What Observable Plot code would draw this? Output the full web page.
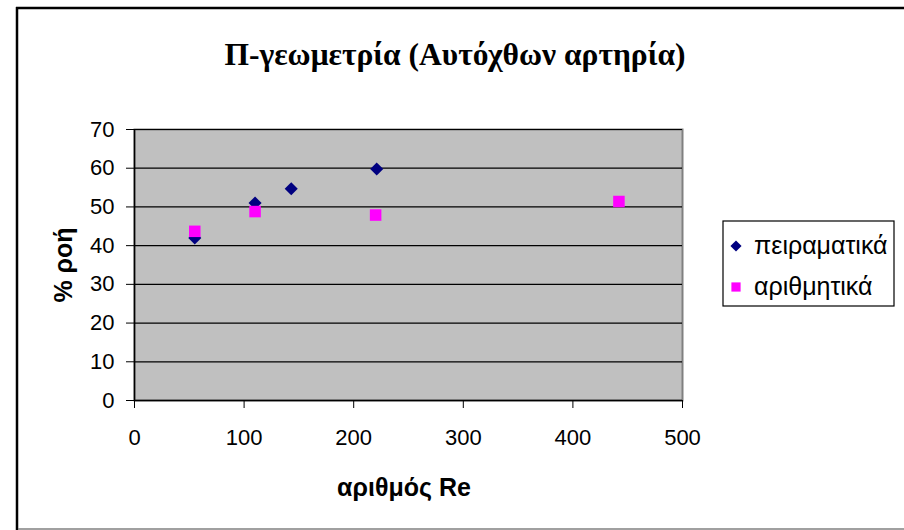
<!DOCTYPE html>
<html>
<head>
<meta charset="utf-8">
<script src="https://cdn.jsdelivr.net/npm/d3@7"></script>
<script src="https://cdn.jsdelivr.net/npm/@observablehq/plot@0.6"></script>
<style>
  html, body { margin: 0; padding: 0; background: #fff; }
  #chart svg { display: block; }
</style>
</head>
<body>
<div id="chart"></div>
<script>
// Flow percentage versus Reynolds number
const experimentalRe = [55, 110, 143, 221];
const experimentalFlow = [42, 51, 54.7, 59.8];
const numericalRe = [55, 110, 220, 442];
const numericalFlow = [43.7, 48.8, 47.9, 51.4];

const seriesNames = ["πειραματικά", "αριθμητικά"];
const xTicks = [0, 100, 200, 300, 400, 500];
const yTicks = [0, 10, 20, 30, 40, 50, 60, 70];

const titleText = "Π-γεωμετρία (Αυτόχθων αρτηρία)";
const xLabel = "αριθμός Re";
const yLabel = "% ροή";

const experimental = experimentalRe.map((re, i) => ({re, flow: experimentalFlow[i]}));
const numerical = numericalRe.map((re, i) => ({re, flow: numericalFlow[i]}));

const navy = "#000080";
const magenta = "#FF00FF";
const sans = "'Liberation Sans', Arial, sans-serif";
const serif = "'Liberation Serif', 'Times New Roman', serif";
const diamondR = 5.9;
const squareR = 6.5;

const chart = Plot.plot({
  width: 904,
  height: 530,
  marginLeft: 134,
  marginRight: 222,
  marginTop: 129,
  marginBottom: 130,
  style: {fontFamily: sans, fontSize: "22px", color: "#000", background: "#fff"},
  x: {domain: [0, 500], ticks: xTicks},
  y: {domain: [0, 70], ticks: yTicks},
  marks: [
    Plot.frame({fill: "#C0C0C0", stroke: "#808080", strokeWidth: 2}),
    Plot.gridY(yTicks, {stroke: "#000", strokeOpacity: 1, strokeWidth: 1.2}),
    Plot.ruleY([0], {stroke: "#000", strokeWidth: 1.5}),
    Plot.ruleX([0], {stroke: "#000", strokeWidth: 1.5}),
    Plot.axisY(yTicks, {tickSize: 8, tickPadding: 12, label: null, fontSize: 22, stroke: "#000"}),
    Plot.axisX(xTicks, {tickSize: 8, tickPadding: 21, label: null, fontSize: 22, stroke: "#000"}),
    Plot.dot(experimental, {x: "re", y: "flow", symbol: "diamond2", r: diamondR, fill: navy, stroke: "none"}),
    Plot.dot(numerical, {x: "re", y: "flow", symbol: "square", r: squareR, fill: magenta, stroke: "none"})
  ]
});

document.getElementById("chart").append(chart);

const svg = d3.select(chart);

// chart-area border: dark on the left/top, grey on the bottom
svg.append("line").attr("x1", 17).attr("x2", 17).attr("y1", 7).attr("y2", 530)
  .attr("stroke", "#000").attr("stroke-width", 2.5);
svg.append("line").attr("x1", 16).attr("x2", 904).attr("y1", 8).attr("y2", 8)
  .attr("stroke", "#000").attr("stroke-width", 2.5);
svg.append("line").attr("x1", 18).attr("x2", 904).attr("y1", 529).attr("y2", 529)
  .attr("stroke", "#808080").attr("stroke-width", 1.5);

// title
svg.append("text")
  .attr("x", 455).attr("y", 65)
  .attr("text-anchor", "middle")
  .attr("font-family", serif).attr("font-weight", "bold").attr("font-size", 31.5)
  .text(titleText);

// axis titles
svg.append("text")
  .attr("x", 404).attr("y", 496)
  .attr("text-anchor", "middle")
  .attr("font-family", sans).attr("font-weight", "bold").attr("font-size", 25)
  .text(xLabel);

svg.append("text")
  .attr("transform", "translate(72,265) rotate(-90)")
  .attr("text-anchor", "middle")
  .attr("font-family", sans).attr("font-weight", "bold").attr("font-size", 25)
  .text(yLabel);

// legend
const legend = svg.append("g");
legend.append("rect")
  .attr("x", 723).attr("y", 221).attr("width", 171).attr("height", 85)
  .attr("fill", "#fff").attr("stroke", "#000").attr("stroke-width", 1.2);

const legendItems = [
  {name: seriesNames[0], type: d3.symbolDiamond2, r: diamondR * 0.85, fill: navy, y: 246},
  {name: seriesNames[1], type: d3.symbolSquare, r: squareR * 0.8, fill: magenta, y: 287}
];
for (const item of legendItems) {
  legend.append("path")
    .attr("transform", `translate(736,${item.y})`)
    .attr("d", d3.symbol(item.type, item.r * item.r * Math.PI)())
    .attr("fill", item.fill);
  legend.append("text")
    .attr("x", 754).attr("y", item.y + 8)
    .attr("text-anchor", "start")
    .attr("font-family", sans).attr("font-size", 25)
    .text(item.name);
}
</script>
</body>
</html>
